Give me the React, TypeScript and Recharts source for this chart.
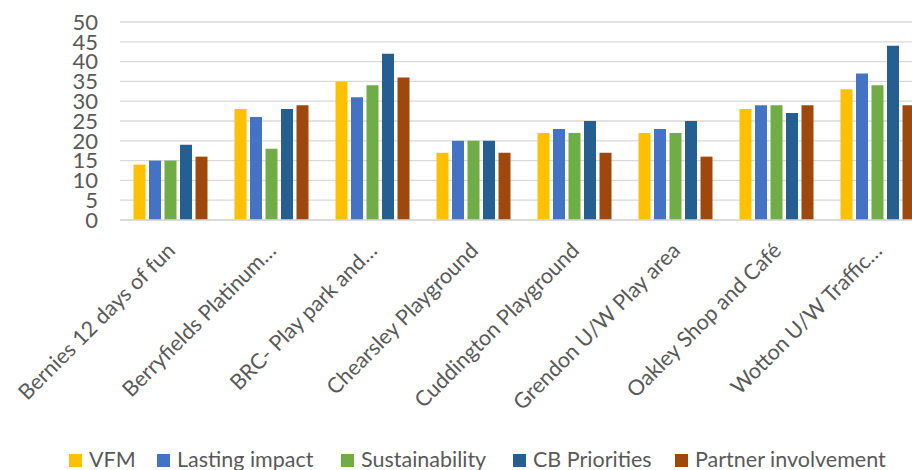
import { Bar, BarChart, CartesianGrid, Legend, XAxis, YAxis } from 'recharts'

const categories = [
  'Bernies 12 days of fun',
  'Berryfields Platinum…',
  'BRC- Play park and…',
  'Chearsley Playground',
  'Cuddington Playground',
  'Grendon U/W Play area',
  'Oakley Shop and Café',
  'Wotton U/W Traffic…',
]

const vfm = [14, 28, 35, 17, 22, 22, 28, 33]
const lastingImpact = [15, 26, 31, 20, 23, 23, 29, 37]
const sustainability = [15, 18, 34, 20, 22, 22, 29, 34]
const cbPriorities = [19, 28, 42, 20, 25, 25, 27, 44]
const partnerInvolvement = [16, 29, 36, 17, 17, 16, 29, 29]

const yTicks = [0, 5, 10, 15, 20, 25, 30, 35, 40, 45, 50]

const SERIES = [
  { key: 'vfm', label: 'VFM', color: '#FFC000' },
  { key: 'lasting', label: 'Lasting impact', color: '#4472C4' },
  { key: 'sustain', label: 'Sustainability', color: '#70AD47' },
  { key: 'cb', label: 'CB Priorities', color: '#255E91' },
  { key: 'partner', label: 'Partner involvement', color: '#9E480E' },
]

const data = categories.map((name, i) => ({
  name,
  vfm: vfm[i],
  lasting: lastingImpact[i],
  sustain: sustainability[i],
  cb: cbPriorities[i],
  partner: partnerInvolvement[i],
}))

const FONT = 'Lato, "Open Sans", sans-serif'
const TEXT = '#595959'

// legend slot widths so each swatch lands where Excel put it
const LEGEND_SLOTS = [88, 184, 172, 162, 230]

function CategoryTick({ x, y, payload }: any) {
  return (
    <text
      x={0}
      y={0}
      transform={`translate(${x + 6},${y + 32}) rotate(-45)`}
      textAnchor="end"
      fill={TEXT}
      fontSize={21.5}
      fontFamily={FONT}
    >
      {payload.value}
    </text>
  )
}

function LegendContent() {
  return (
    <div
      style={{
        display: 'flex',
        paddingLeft: 69,
        height: 23,
        alignItems: 'center',
        fontFamily: FONT,
        fontSize: 21.5,
        color: TEXT,
        whiteSpace: 'nowrap',
      }}
    >
      {SERIES.map((s, i) => (
        <div key={s.key} style={{ display: 'flex', alignItems: 'center', width: LEGEND_SLOTS[i] }}>
          <span style={{ width: 13, height: 13, background: s.color, marginRight: 7, marginTop: 4 }} />
          <span>{s.label}</span>
        </div>
      ))}
    </div>
  )
}

export default function App() {
  return (
    <div style={{ position: 'absolute', left: 0, top: 0, width: 912, height: 470, overflow: 'hidden', background: '#fff' }}>
      <BarChart
        width={928}
        height={470}
        data={data}
        margin={{ top: 22, right: 0, bottom: 0, left: 0 }}
        barGap={3.5}
        barCategoryGap={13.5}
      >
        <CartesianGrid vertical={false} stroke="#D9D9D9" strokeWidth={1.3} />
        <XAxis
          dataKey="name"
          height={227}
          interval={0}
          tickLine={false}
          tickSize={0}
          tickMargin={0}
          axisLine={{ stroke: '#D9D9D9', strokeWidth: 1.3 }}
          tick={<CategoryTick />}
        />
        <YAxis
          width={120}
          domain={[0, 50]}
          ticks={yTicks}
          interval={0}
          axisLine={false}
          tickLine={false}
          tickSize={0}
          tickMargin={22}
          tick={{ fill: TEXT, fontSize: 22, fontFamily: FONT }}
        />
        <Legend verticalAlign="bottom" align="left" content={<LegendContent />} wrapperStyle={{ left: 0, width: 928 }} />
        {SERIES.map((s) => (
          <Bar key={s.key} dataKey={s.key} name={s.label} fill={s.color} isAnimationActive={false} />
        ))}
      </BarChart>
    </div>
  )
}
